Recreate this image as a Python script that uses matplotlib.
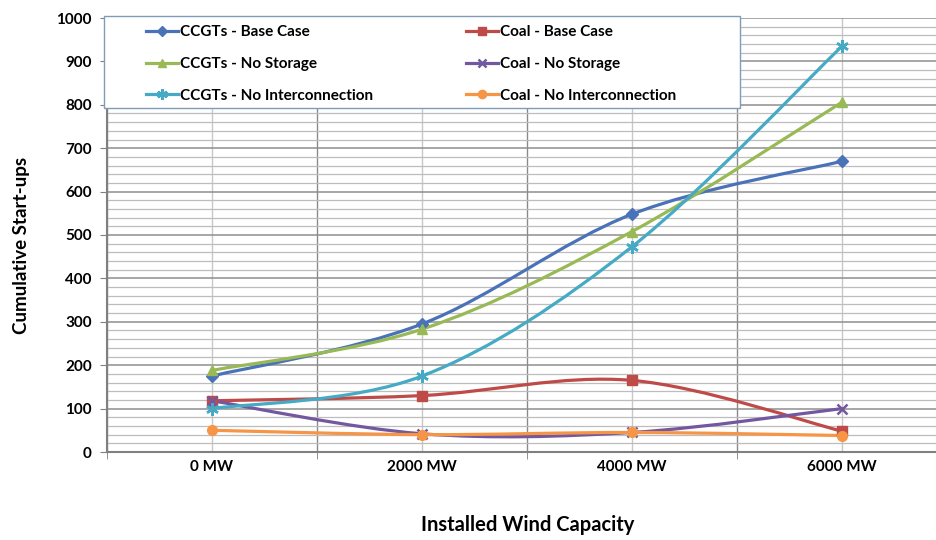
import numpy as np
import matplotlib
matplotlib.use("Agg")
import matplotlib.pyplot as plt
from matplotlib.path import Path
from matplotlib.patches import PathPatch, Rectangle
from matplotlib.lines import Line2D

# Données (démarrages cumulés)
categories = ["0 MW", "2000 MW", "4000 MW", "6000 MW"]
ccgt_base = [175, 295, 548, 670]
coal_base = [118, 130, 165, 48]
ccgt_no_storage = [188, 283, 508, 806]
coal_no_storage = [118, 42, 45, 100]
ccgt_no_interco = [100, 175, 473, 935]
coal_no_interco = [50, 40, 45, 38]

series = [
    ("CCGTs - Base Case", ccgt_base, "#4A72B8", "D", 6),
    ("Coal - Base Case", coal_base, "#BE4B48", "s", 6.5),
    ("CCGTs - No Storage", ccgt_no_storage, "#98B954", "^", 7.5),
    ("Coal - No Storage", coal_no_storage, "#7358A0", "x", 7),
    ("CCGTs - No Interconnection", ccgt_no_interco, "#46AAC5", (6, 2, 0), 9),
    ("Coal - No Interconnection", coal_no_interco, "#F69546", "o", 7),
]

plt.rcParams["font.family"] = ["Lato", "DejaVu Sans"]
plt.rcParams["font.weight"] = "bold"

fig = plt.figure(figsize=(9.37, 5.4), dpi=100)
ax = fig.add_axes([107 / 937, 1 - 452 / 540, 840 / 937, 434 / 540])

x = np.arange(len(categories))


def smooth_path(xs, ys):
    # courbe lissée façon Excel : segments de Bézier cubiques
    pts = np.column_stack([xs, ys]).astype(float)
    n = len(pts)
    verts = [pts[0]]
    codes = [Path.MOVETO]
    for i in range(n - 1):
        p0 = pts[i - 1] if i > 0 else pts[i]
        p1 = pts[i]
        p2 = pts[i + 1]
        p3 = pts[i + 2] if i + 2 < n else pts[i + 1]
        c1 = p1 + (p2 - p0) / 6
        c2 = p2 - (p3 - p1) / 6
        verts += [c1, c2, p2]
        codes += [Path.CURVE4] * 3
    return Path(verts, codes)


handles = []
for label, vals, col, mk, ms in series:
    patch = PathPatch(smooth_path(x, vals), facecolor="none", edgecolor=col,
                      lw=2.3, zorder=3, capstyle="round", joinstyle="round")
    ax.add_patch(patch)
    mew = 1.8 if mk in ("x", (6, 2, 0)) else 1
    ax.plot(x, vals, linestyle="none", marker=mk, markersize=ms, color=col,
            markeredgewidth=mew, zorder=4)
    handles.append(Line2D([], [], color=col, lw=2.3, marker=mk, markersize=ms * 0.85,
                          markeredgewidth=mew, label=label))

ax.set_xlim(-0.5, 3.5)
ax.set_ylim(0, 1000)

ax.set_xticks(x)
ax.set_xticklabels(categories)
ax.set_xticks(np.arange(-0.5, 4.0, 1.0), minor=True)
ax.set_yticks(np.arange(0, 1001, 100))
ax.set_yticks(np.arange(0, 1001, 20), minor=True)

ax.tick_params(axis="x", which="major", length=0, pad=6, labelsize=11)
ax.tick_params(axis="x", which="minor", length=5, color="#808080")
ax.tick_params(axis="y", which="major", length=5, pad=6, labelsize=11, color="#808080")
ax.tick_params(axis="y", which="minor", length=0)

ax.grid(axis="y", which="major", color="#8E8E8E", lw=1.1)
ax.grid(axis="y", which="minor", color="#BDBDBD", lw=0.9)
ax.grid(axis="x", which="major", color="#C8C8C8", lw=1.0)
ax.grid(axis="x", which="minor", color="#8A8A8A", lw=1.0)
ax.set_axisbelow(True)

for s in ["top", "right"]:
    ax.spines[s].set_visible(False)
ax.spines["left"].set_color("#808080")
ax.spines["bottom"].set_color("#808080")
ax.spines["left"].set_linewidth(1.5)
ax.spines["bottom"].set_linewidth(1.5)

fig.text(22 / 937, 1 - 245 / 540, "Cumulative Start-ups", rotation=90,
         ha="center", va="center", fontsize=13.5, fontweight="bold")
fig.text(528 / 937, 1 - 525 / 540, "Installed Wind Capacity",
         ha="center", va="center", fontsize=14.5, fontweight="bold")

# Cadre de la légende
fig.patches.append(Rectangle((104 / 937, 1 - 108 / 540), 636 / 937, 92 / 540,
                             transform=fig.transFigure, facecolor="white",
                             edgecolor="#7F9DB9", lw=1.0, zorder=4))

leg_kw = dict(frameon=False, loc="upper left", fontsize=11, handlelength=2.1,
              handletextpad=0.15, labelspacing=1.17, borderaxespad=0, borderpad=0)
leg1 = fig.legend(handles=[handles[0], handles[2], handles[4]],
                  bbox_to_anchor=(146 / 937, 1 - 25 / 540), **leg_kw)
leg2 = fig.legend(handles=[handles[1], handles[3], handles[5]],
                  bbox_to_anchor=(466 / 937, 1 - 25 / 540), **leg_kw)
for leg in (leg1, leg2):
    leg.set_zorder(5)

fig.savefig("out.png", dpi=100)
